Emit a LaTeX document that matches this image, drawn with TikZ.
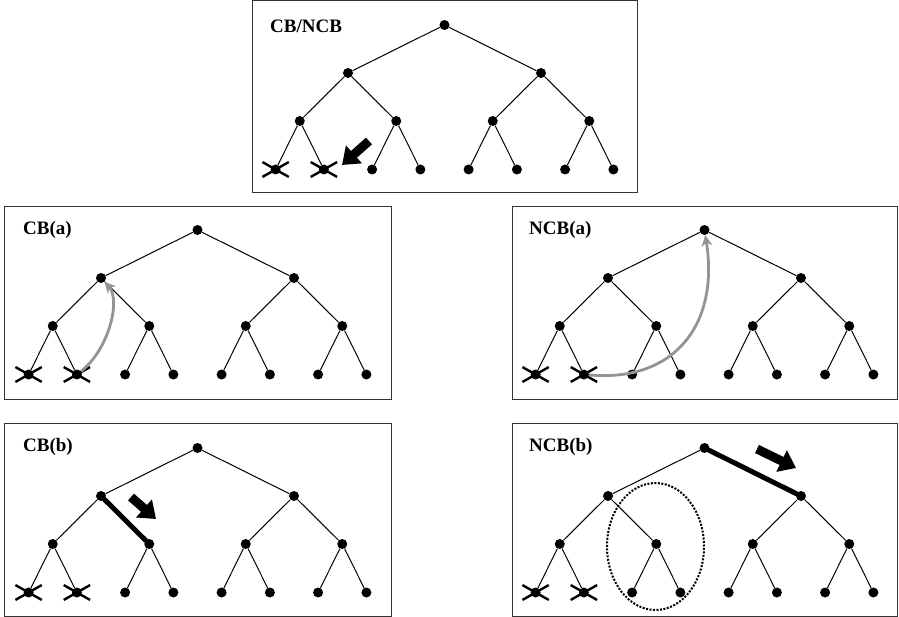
\documentclass[tikz,border=0pt]{standalone}
\usepackage{fontspec}
\setmainfont{Liberation Serif}
\usetikzlibrary{arrows.meta,shapes.geometric,shapes.misc}
\tikzset{
  dot/.style={circle,fill=black,inner sep=0pt,minimum size=10pt},
  edge/.style={line width=1pt,black},
  xmark/.style={cross out,draw=black,line width=2.4pt,inner sep=0pt,minimum width=24pt,minimum height=12.5pt},
  panel/.style={draw=black!80,line width=1pt},
  lab/.style={font=\fontsize{19}{22}\selectfont\bfseries,inner sep=0pt,anchor=base west},
  thickedge/.style={line width=5pt,black,line cap=round},
  bigarr/.style={line width=9pt,black,-{Triangle[length=16pt,width=23pt]}},
  grayarr/.style={line width=2.8pt,black!42,-{Stealth[length=11pt,width=11pt]}},
  dottedring/.style={draw=black,line width=2pt,dash pattern=on 2pt off 1.5pt},
}
\newcommand\bintree[3]{%
  \coordinate (#1-o) at (#2,#3);
  \foreach \i/\dx/\dy in {1/0/0,2/-96.5/48,3/96.5/48,4/-144.75/96,5/-48.25/96,6/48.25/96,7/144.75/96,8/-168.9/144.5,9/-120.6/144.5,10/-72.4/144.5,11/-24.1/144.5,12/24.1/144.5,13/72.4/144.5,14/120.6/144.5,15/168.9/144.5}
    {\node[dot] (#1-\i) at ([shift={(\dx,\dy)}]#1-o) {};}
  \foreach \i in {2,...,15}
    {\pgfmathtruncatemacro\mypar{\i/2}\draw[edge] (#1-\mypar) -- (#1-\i);}
  \node[xmark] (#1-x8) at (#1-8) {};
  \node[xmark] (#1-x9) at (#1-9) {};
}
\begin{document}
\begin{tikzpicture}[x=1pt,y=-1pt]
\useasboundingbox[fill=white] (0,0) rectangle (899,617);
% panels
\draw[panel] (252,1) rectangle (637,193);
\draw[panel] (4.5,207) rectangle (391,399);
\draw[panel] (512,207) rectangle (897,399);
\draw[panel] (4.5,423) rectangle (391,616);
\draw[panel] (512,423) rectangle (897,616);
% labels
\node[lab] (lt) at (270,33) {CB/NCB};
\node[lab] (lca) at (23,235) {CB(a)};
\node[lab] (lna) at (529,235) {NCB(a)};
\node[lab] (lcb) at (23,451) {CB(b)};
\node[lab] (lnb) at (529,451) {NCB(b)};
% trees
\bintree{t}{444.5}{25}
\bintree{ca}{197.5}{230}
\bintree{na}{704.5}{230}
\bintree{cb}{197.5}{448}
\bintree{nb}{704.5}{448}
% top arrow
\coordinate (ta0) at (369,141);
\coordinate (ta1) at (342,165);
\draw[bigarr] (ta0) -- (ta1);
% CB(a) gray arc
\draw[grayarr] (ca-9) .. controls +(32,-25) and +(20,22) .. (ca-2);
% NCB(a) gray arc
\draw[grayarr] (na-9) .. controls +(90,8) and +(15,95) .. (na-1);
% CB(b)
\draw[thickedge] (cb-2) -- (cb-5);
\coordinate (cba0) at (131,497);
\coordinate (cba1) at (156,519);
\draw[bigarr] (cba0) -- (cba1);
% NCB(b)
\draw[thickedge] (nb-1) -- (nb-3);
\coordinate (nba0) at (757,449);
\coordinate (nba1) at (796,468);
\draw[bigarr] (nba0) -- (nba1);
\node[ellipse,dottedring,inner sep=0pt,minimum width=97pt,minimum height=127pt] (ring) at (655.5,546.5) {};
\end{tikzpicture}
\end{document}
